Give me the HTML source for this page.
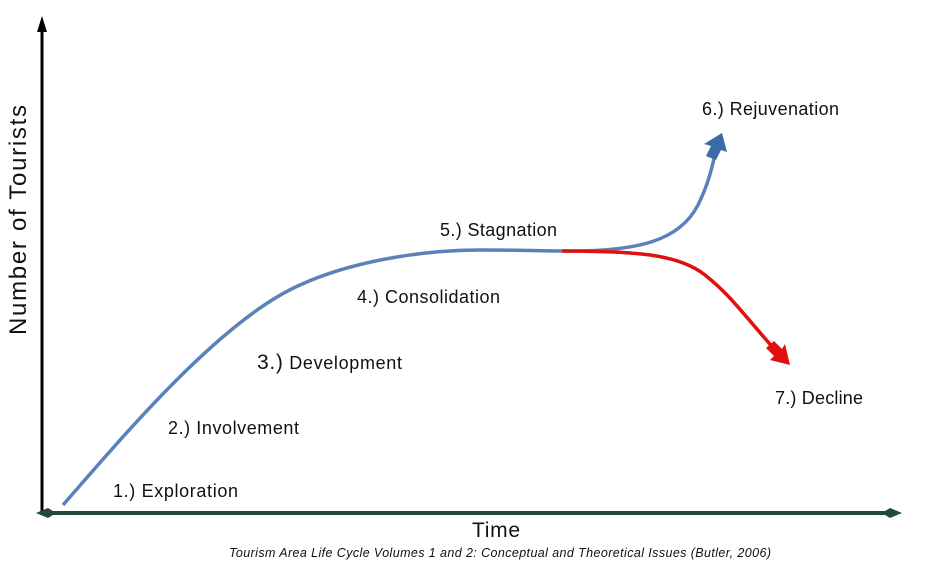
<!DOCTYPE html>
<html><head><style>
body{margin:0;background:#fff;}
svg text{font-family:"Liberation Sans",sans-serif;fill:#111;}
</style></head><body>
<svg width="948" height="570" viewBox="0 0 948 570" xmlns="http://www.w3.org/2000/svg">
<line x1="42" y1="30" x2="42" y2="514" stroke="#000" stroke-width="3"/>
<polygon points="42,16 37,32 47,32" fill="#000"/>
<line x1="40" y1="513" x2="895" y2="513" stroke="#1f4a3a" stroke-width="4"/>
<polygon points="36,513 48,508 56,513 48,518" fill="#1f4a3a"/>
<polygon points="902,513 890,508 882,513 890,518" fill="#1f4a3a"/>
<path d="M63,505 C120,440 220,320 300,285 C350,262 420,250 480,250 C520,250 545,251 562,251" fill="none" stroke="#5a82b8" stroke-width="3.5"/>
<path d="M562,251 C640,252 680,240 698,205 C708,185 712,168 716,150" fill="none" stroke="#5a82b8" stroke-width="3.5"/>
<polygon points="722,133 727,152 721,150 716,160 706,156 711,146 704,144" fill="#3b6aa6"/>
<path d="M562,251 C640,251 680,255 705,275 C730,295 740,310 775,350" fill="none" stroke="#e01010" stroke-width="3.5"/>
<polygon points="790,365 770,360 774,356 766,348 774,341 782,349 785,344" fill="#e01010"/>
<text x="113" y="497" font-size="18" textLength="125">1.) Exploration</text>
<text x="168" y="434" font-size="18" textLength="131">2.) Involvement</text>
<text x="257" y="369" font-size="18" textLength="145"><tspan font-size="21">3.)</tspan> Development</text>
<text x="357" y="303" font-size="18" textLength="143">4.) Consolidation</text>
<text x="440" y="236" font-size="18" textLength="117">5.) Stagnation</text>
<text x="702" y="115" font-size="18" textLength="137">6.) Rejuvenation</text>
<text x="775" y="404" font-size="18" textLength="88">7.) Decline</text>
<text transform="translate(26,220) rotate(-90)" text-anchor="middle" font-size="24" textLength="230">Number of Tourists</text>
<text x="496" y="537" text-anchor="middle" font-size="21" textLength="48">Time</text>
<text x="500" y="557" text-anchor="middle" font-size="12.5" font-style="italic" textLength="542">Tourism Area Life Cycle Volumes 1 and 2: Conceptual and Theoretical Issues (Butler, 2006)</text>
</svg>
</body></html>
